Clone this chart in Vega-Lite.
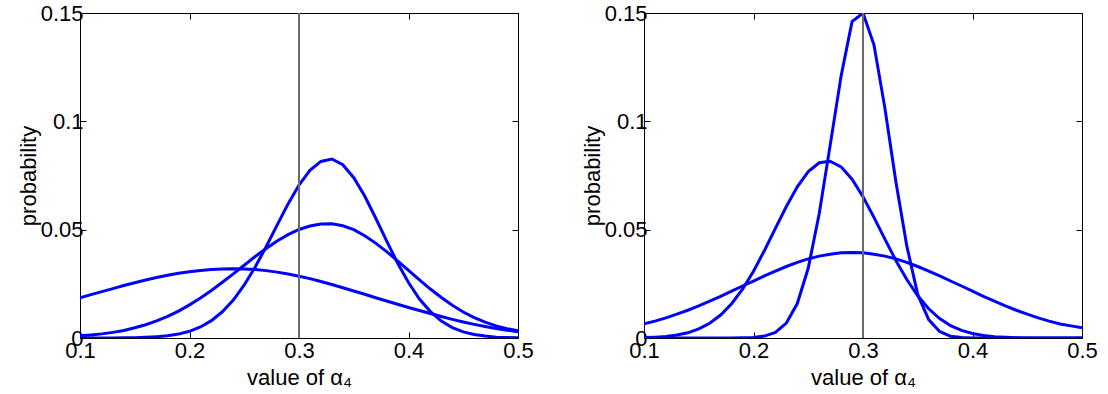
{
  "$schema": "https://vega.github.io/schema/vega-lite/v6.json",
  "background": "white",
  "padding": {"left": 16, "top": 1, "right": 0, "bottom": 0},
  "bounds": "flush",
  "spacing": 126,
  "config": {
    "font": "Liberation Sans",
    "view": {"stroke": "black", "strokeWidth": 1},
    "axis": {
      "grid": false,
      "labelFont": "Liberation Sans",
      "titleFont": "Liberation Sans",
      "labelFontSize": 22,
      "titleFontSize": 22,
      "titleFontWeight": "normal",
      "labelColor": "black",
      "titleColor": "black",
      "domainColor": "black",
      "tickColor": "black",
      "tickSize": -6,
      "labelFlush": false
    }
  },
  "datasets": {
    "marker": [{"x": 0.3}],
    "left": [
      {"s": "a", "x": 0.10, "p": 0.0185}, {"s": "a", "x": 0.11, "p": 0.0200}, {"s": "a", "x": 0.12, "p": 0.0214},
      {"s": "a", "x": 0.13, "p": 0.0228}, {"s": "a", "x": 0.14, "p": 0.0242}, {"s": "a", "x": 0.15, "p": 0.0255},
      {"s": "a", "x": 0.16, "p": 0.0268}, {"s": "a", "x": 0.17, "p": 0.0279}, {"s": "a", "x": 0.18, "p": 0.0290},
      {"s": "a", "x": 0.19, "p": 0.0299}, {"s": "a", "x": 0.20, "p": 0.0306}, {"s": "a", "x": 0.21, "p": 0.0312},
      {"s": "a", "x": 0.22, "p": 0.0316}, {"s": "a", "x": 0.23, "p": 0.0319}, {"s": "a", "x": 0.24, "p": 0.0320},
      {"s": "a", "x": 0.25, "p": 0.0319}, {"s": "a", "x": 0.26, "p": 0.0316}, {"s": "a", "x": 0.27, "p": 0.0311},
      {"s": "a", "x": 0.28, "p": 0.0304}, {"s": "a", "x": 0.29, "p": 0.0295}, {"s": "a", "x": 0.30, "p": 0.0285},
      {"s": "a", "x": 0.31, "p": 0.0274}, {"s": "a", "x": 0.32, "p": 0.0261}, {"s": "a", "x": 0.33, "p": 0.0247},
      {"s": "a", "x": 0.34, "p": 0.0232}, {"s": "a", "x": 0.35, "p": 0.0217}, {"s": "a", "x": 0.36, "p": 0.0202},
      {"s": "a", "x": 0.37, "p": 0.0186}, {"s": "a", "x": 0.38, "p": 0.0171}, {"s": "a", "x": 0.39, "p": 0.0156},
      {"s": "a", "x": 0.40, "p": 0.0141}, {"s": "a", "x": 0.41, "p": 0.0127}, {"s": "a", "x": 0.42, "p": 0.0113},
      {"s": "a", "x": 0.43, "p": 0.0099}, {"s": "a", "x": 0.44, "p": 0.0086}, {"s": "a", "x": 0.45, "p": 0.0074},
      {"s": "a", "x": 0.46, "p": 0.0063}, {"s": "a", "x": 0.47, "p": 0.0053}, {"s": "a", "x": 0.48, "p": 0.0044},
      {"s": "a", "x": 0.49, "p": 0.0036}, {"s": "a", "x": 0.50, "p": 0.0029},

      {"s": "b", "x": 0.10, "p": 0.0010}, {"s": "b", "x": 0.11, "p": 0.0014}, {"s": "b", "x": 0.12, "p": 0.0019},
      {"s": "b", "x": 0.13, "p": 0.0026}, {"s": "b", "x": 0.14, "p": 0.0035}, {"s": "b", "x": 0.15, "p": 0.0047},
      {"s": "b", "x": 0.16, "p": 0.0061}, {"s": "b", "x": 0.17, "p": 0.0079}, {"s": "b", "x": 0.18, "p": 0.0100},
      {"s": "b", "x": 0.19, "p": 0.0124}, {"s": "b", "x": 0.20, "p": 0.0153}, {"s": "b", "x": 0.21, "p": 0.0185},
      {"s": "b", "x": 0.22, "p": 0.0219}, {"s": "b", "x": 0.23, "p": 0.0257}, {"s": "b", "x": 0.24, "p": 0.0296},
      {"s": "b", "x": 0.25, "p": 0.0336}, {"s": "b", "x": 0.26, "p": 0.0376}, {"s": "b", "x": 0.27, "p": 0.0413},
      {"s": "b", "x": 0.28, "p": 0.0448}, {"s": "b", "x": 0.29, "p": 0.0477}, {"s": "b", "x": 0.30, "p": 0.0501},
      {"s": "b", "x": 0.31, "p": 0.0517}, {"s": "b", "x": 0.32, "p": 0.0526}, {"s": "b", "x": 0.33, "p": 0.0527},
      {"s": "b", "x": 0.34, "p": 0.0518}, {"s": "b", "x": 0.35, "p": 0.0500}, {"s": "b", "x": 0.36, "p": 0.0472},
      {"s": "b", "x": 0.37, "p": 0.0438}, {"s": "b", "x": 0.38, "p": 0.0399}, {"s": "b", "x": 0.39, "p": 0.0356},
      {"s": "b", "x": 0.40, "p": 0.0312}, {"s": "b", "x": 0.41, "p": 0.0268}, {"s": "b", "x": 0.42, "p": 0.0226},
      {"s": "b", "x": 0.43, "p": 0.0187}, {"s": "b", "x": 0.44, "p": 0.0151}, {"s": "b", "x": 0.45, "p": 0.0120},
      {"s": "b", "x": 0.46, "p": 0.0094}, {"s": "b", "x": 0.47, "p": 0.0073}, {"s": "b", "x": 0.48, "p": 0.0056},
      {"s": "b", "x": 0.49, "p": 0.0043}, {"s": "b", "x": 0.50, "p": 0.0033},

      {"s": "c", "x": 0.10, "p": 0.0000}, {"s": "c", "x": 0.11, "p": 0.0000}, {"s": "c", "x": 0.12, "p": 0.0000},
      {"s": "c", "x": 0.13, "p": 0.0000}, {"s": "c", "x": 0.14, "p": 0.0001}, {"s": "c", "x": 0.15, "p": 0.0001},
      {"s": "c", "x": 0.16, "p": 0.0003}, {"s": "c", "x": 0.17, "p": 0.0006}, {"s": "c", "x": 0.18, "p": 0.0010},
      {"s": "c", "x": 0.19, "p": 0.0018}, {"s": "c", "x": 0.20, "p": 0.0031}, {"s": "c", "x": 0.21, "p": 0.0051},
      {"s": "c", "x": 0.22, "p": 0.0080}, {"s": "c", "x": 0.23, "p": 0.0121}, {"s": "c", "x": 0.24, "p": 0.0175},
      {"s": "c", "x": 0.25, "p": 0.0245}, {"s": "c", "x": 0.26, "p": 0.0328}, {"s": "c", "x": 0.27, "p": 0.0421},
      {"s": "c", "x": 0.28, "p": 0.0521}, {"s": "c", "x": 0.29, "p": 0.0619}, {"s": "c", "x": 0.30, "p": 0.0706},
      {"s": "c", "x": 0.31, "p": 0.0774}, {"s": "c", "x": 0.32, "p": 0.0815}, {"s": "c", "x": 0.33, "p": 0.0826},
      {"s": "c", "x": 0.34, "p": 0.0800}, {"s": "c", "x": 0.35, "p": 0.0740}, {"s": "c", "x": 0.36, "p": 0.0655},
      {"s": "c", "x": 0.37, "p": 0.0554}, {"s": "c", "x": 0.38, "p": 0.0448}, {"s": "c", "x": 0.39, "p": 0.0346},
      {"s": "c", "x": 0.40, "p": 0.0256}, {"s": "c", "x": 0.41, "p": 0.0180}, {"s": "c", "x": 0.42, "p": 0.0122},
      {"s": "c", "x": 0.43, "p": 0.0078}, {"s": "c", "x": 0.44, "p": 0.0048}, {"s": "c", "x": 0.45, "p": 0.0028},
      {"s": "c", "x": 0.46, "p": 0.0016}, {"s": "c", "x": 0.47, "p": 0.0009}, {"s": "c", "x": 0.48, "p": 0.0004},
      {"s": "c", "x": 0.49, "p": 0.0002}, {"s": "c", "x": 0.50, "p": 0.0001}
    ],
    "right": [
      {"s": "d", "x": 0.10, "p": 0.0065}, {"s": "d", "x": 0.11, "p": 0.0078}, {"s": "d", "x": 0.12, "p": 0.0093},
      {"s": "d", "x": 0.13, "p": 0.0110}, {"s": "d", "x": 0.14, "p": 0.0128}, {"s": "d", "x": 0.15, "p": 0.0148},
      {"s": "d", "x": 0.16, "p": 0.0170}, {"s": "d", "x": 0.17, "p": 0.0192}, {"s": "d", "x": 0.18, "p": 0.0216},
      {"s": "d", "x": 0.19, "p": 0.0240}, {"s": "d", "x": 0.20, "p": 0.0263}, {"s": "d", "x": 0.21, "p": 0.0287},
      {"s": "d", "x": 0.22, "p": 0.0309}, {"s": "d", "x": 0.23, "p": 0.0330}, {"s": "d", "x": 0.24, "p": 0.0349},
      {"s": "d", "x": 0.25, "p": 0.0365}, {"s": "d", "x": 0.26, "p": 0.0378}, {"s": "d", "x": 0.27, "p": 0.0387},
      {"s": "d", "x": 0.28, "p": 0.0393}, {"s": "d", "x": 0.29, "p": 0.0395}, {"s": "d", "x": 0.30, "p": 0.0393},
      {"s": "d", "x": 0.31, "p": 0.0387}, {"s": "d", "x": 0.32, "p": 0.0378}, {"s": "d", "x": 0.33, "p": 0.0365},
      {"s": "d", "x": 0.34, "p": 0.0349}, {"s": "d", "x": 0.35, "p": 0.0330}, {"s": "d", "x": 0.36, "p": 0.0309},
      {"s": "d", "x": 0.37, "p": 0.0287}, {"s": "d", "x": 0.38, "p": 0.0263}, {"s": "d", "x": 0.39, "p": 0.0240},
      {"s": "d", "x": 0.40, "p": 0.0216}, {"s": "d", "x": 0.41, "p": 0.0192}, {"s": "d", "x": 0.42, "p": 0.0170},
      {"s": "d", "x": 0.43, "p": 0.0148}, {"s": "d", "x": 0.44, "p": 0.0128}, {"s": "d", "x": 0.45, "p": 0.0110},
      {"s": "d", "x": 0.46, "p": 0.0093}, {"s": "d", "x": 0.47, "p": 0.0078}, {"s": "d", "x": 0.48, "p": 0.0065},
      {"s": "d", "x": 0.49, "p": 0.0056}, {"s": "d", "x": 0.50, "p": 0.0047},

      {"s": "e", "x": 0.10, "p": 0.0002}, {"s": "e", "x": 0.11, "p": 0.0004}, {"s": "e", "x": 0.12, "p": 0.0007},
      {"s": "e", "x": 0.13, "p": 0.0014}, {"s": "e", "x": 0.14, "p": 0.0024}, {"s": "e", "x": 0.15, "p": 0.0042},
      {"s": "e", "x": 0.16, "p": 0.0068}, {"s": "e", "x": 0.17, "p": 0.0106}, {"s": "e", "x": 0.18, "p": 0.0158},
      {"s": "e", "x": 0.19, "p": 0.0225}, {"s": "e", "x": 0.20, "p": 0.0308}, {"s": "e", "x": 0.21, "p": 0.0404},
      {"s": "e", "x": 0.22, "p": 0.0506}, {"s": "e", "x": 0.23, "p": 0.0607}, {"s": "e", "x": 0.24, "p": 0.0698},
      {"s": "e", "x": 0.25, "p": 0.0768}, {"s": "e", "x": 0.26, "p": 0.0809}, {"s": "e", "x": 0.27, "p": 0.0816},
      {"s": "e", "x": 0.28, "p": 0.0790}, {"s": "e", "x": 0.29, "p": 0.0733}, {"s": "e", "x": 0.30, "p": 0.0652},
      {"s": "e", "x": 0.31, "p": 0.0557}, {"s": "e", "x": 0.32, "p": 0.0456}, {"s": "e", "x": 0.33, "p": 0.0358},
      {"s": "e", "x": 0.34, "p": 0.0270}, {"s": "e", "x": 0.35, "p": 0.0195}, {"s": "e", "x": 0.36, "p": 0.0135},
      {"s": "e", "x": 0.37, "p": 0.0090}, {"s": "e", "x": 0.38, "p": 0.0057}, {"s": "e", "x": 0.39, "p": 0.0035},
      {"s": "e", "x": 0.40, "p": 0.0021}, {"s": "e", "x": 0.41, "p": 0.0012}, {"s": "e", "x": 0.42, "p": 0.0006},
      {"s": "e", "x": 0.43, "p": 0.0003}, {"s": "e", "x": 0.44, "p": 0.0001}, {"s": "e", "x": 0.45, "p": 0.0000},
      {"s": "e", "x": 0.46, "p": 0.0000}, {"s": "e", "x": 0.47, "p": 0.0000}, {"s": "e", "x": 0.48, "p": 0.0000},
      {"s": "e", "x": 0.49, "p": 0.0000}, {"s": "e", "x": 0.50, "p": 0.0000},

      {"s": "f", "x": 0.10, "p": 0.0000}, {"s": "f", "x": 0.11, "p": 0.0000}, {"s": "f", "x": 0.12, "p": 0.0000},
      {"s": "f", "x": 0.13, "p": 0.0000}, {"s": "f", "x": 0.14, "p": 0.0000}, {"s": "f", "x": 0.15, "p": 0.0000},
      {"s": "f", "x": 0.16, "p": 0.0000}, {"s": "f", "x": 0.17, "p": 0.0000}, {"s": "f", "x": 0.18, "p": 0.0000},
      {"s": "f", "x": 0.19, "p": 0.0001}, {"s": "f", "x": 0.20, "p": 0.0002}, {"s": "f", "x": 0.21, "p": 0.0009},
      {"s": "f", "x": 0.22, "p": 0.0026}, {"s": "f", "x": 0.23, "p": 0.0069}, {"s": "f", "x": 0.24, "p": 0.0159},
      {"s": "f", "x": 0.25, "p": 0.0323}, {"s": "f", "x": 0.26, "p": 0.0573}, {"s": "f", "x": 0.27, "p": 0.0889},
      {"s": "f", "x": 0.28, "p": 0.1209}, {"s": "f", "x": 0.29, "p": 0.1460}, {"s": "f", "x": 0.30, "p": 0.1500},
      {"s": "f", "x": 0.31, "p": 0.1353}, {"s": "f", "x": 0.32, "p": 0.1061}, {"s": "f", "x": 0.33, "p": 0.0722},
      {"s": "f", "x": 0.34, "p": 0.0425}, {"s": "f", "x": 0.35, "p": 0.0200}, {"s": "f", "x": 0.36, "p": 0.0085},
      {"s": "f", "x": 0.37, "p": 0.0030}, {"s": "f", "x": 0.38, "p": 0.0008}, {"s": "f", "x": 0.39, "p": 0.0002},
      {"s": "f", "x": 0.40, "p": 0.0000}, {"s": "f", "x": 0.41, "p": 0.0000}, {"s": "f", "x": 0.42, "p": 0.0000},
      {"s": "f", "x": 0.43, "p": 0.0000}, {"s": "f", "x": 0.44, "p": 0.0000}, {"s": "f", "x": 0.45, "p": 0.0000},
      {"s": "f", "x": 0.46, "p": 0.0000}, {"s": "f", "x": 0.47, "p": 0.0000}, {"s": "f", "x": 0.48, "p": 0.0000},
      {"s": "f", "x": 0.49, "p": 0.0000}, {"s": "f", "x": 0.50, "p": 0.0000}
    ]
  },
  "hconcat": [
    {
      "width": 438,
      "height": 325,
      "layer": [
        {
          "data": {"name": "left"},
          "mark": {"type": "line", "color": "#0000ff", "strokeWidth": 3, "clip": true},
          "encoding": {
            "x": {"field": "x", "type": "quantitative",
                  "scale": {"domain": [0.1, 0.5], "nice": false, "zero": false},
                  "axis": {"orient": "bottom", "values": [0.1, 0.2, 0.3, 0.4, 0.5], "format": ".1f", "labelPadding": 8, "title": "value of α₄", "titlePadding": 6}},
            "y": {"field": "p", "type": "quantitative",
                  "scale": {"domain": [0, 0.15], "nice": false},
                  "axis": {"orient": "left", "values": [0, 0.05, 0.1, 0.15], "format": ".2~f", "labelPadding": 3, "title": "probability", "titlePadding": 0}},
            "detail": {"field": "s"}
          }
        },
        {
          "data": {"name": "marker"},
          "mark": {"type": "rule", "color": "#6a6a6a", "strokeWidth": 2},
          "encoding": {
            "x": {"field": "x", "type": "quantitative",
                  "axis": {"orient": "top", "values": [0.1, 0.2, 0.3, 0.4, 0.5], "labels": false, "title": null}},
            "y": {"datum": 0, "type": "quantitative",
                  "axis": {"orient": "right", "values": [0, 0.05, 0.1, 0.15], "labels": false, "title": null}},
            "y2": {"datum": 0.15}
          }
        }
      ],
      "resolve": {"axis": {"x": "independent", "y": "independent"}}
    },
    {
      "width": 438,
      "height": 325,
      "layer": [
        {
          "data": {"name": "right"},
          "mark": {"type": "line", "color": "#0000ff", "strokeWidth": 3, "clip": true},
          "encoding": {
            "x": {"field": "x", "type": "quantitative",
                  "scale": {"domain": [0.1, 0.5], "nice": false, "zero": false},
                  "axis": {"orient": "bottom", "values": [0.1, 0.2, 0.3, 0.4, 0.5], "format": ".1f", "labelPadding": 8, "title": "value of α₄", "titlePadding": 6}},
            "y": {"field": "p", "type": "quantitative",
                  "scale": {"domain": [0, 0.15], "nice": false},
                  "axis": {"orient": "left", "values": [0, 0.05, 0.1, 0.15], "format": ".2~f", "labelPadding": 3, "title": "probability", "titlePadding": 0}},
            "detail": {"field": "s"}
          }
        },
        {
          "data": {"name": "marker"},
          "mark": {"type": "rule", "color": "#6a6a6a", "strokeWidth": 2},
          "encoding": {
            "x": {"field": "x", "type": "quantitative",
                  "axis": {"orient": "top", "values": [0.1, 0.2, 0.3, 0.4, 0.5], "labels": false, "title": null}},
            "y": {"datum": 0, "type": "quantitative",
                  "axis": {"orient": "right", "values": [0, 0.05, 0.1, 0.15], "labels": false, "title": null}},
            "y2": {"datum": 0.15}
          }
        }
      ],
      "resolve": {"axis": {"x": "independent", "y": "independent"}}
    }
  ]
}
